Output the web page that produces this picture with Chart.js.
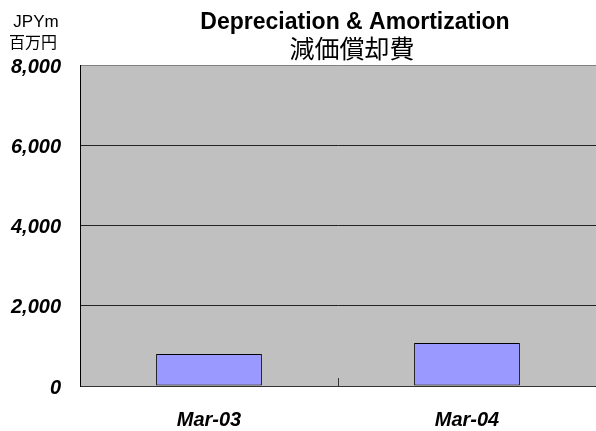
<!DOCTYPE html>
<html>
<head>
<meta charset="utf-8">
<script src="https://cdn.jsdelivr.net/npm/chart.js@4"></script>
<style>
  body { margin: 0; background: #fff; }
  canvas { display: block; }
</style>
</head>
<body>
<canvas id="chart" width="596" height="431"></canvas>
<script>
const periods = ["Mar-03", "Mar-04"];
const depreciation = [800, 1070];
const yTicks = [0, 2000, 4000, 6000, 8000];

const titleLine = "Depreciation & Amortization";
const titleLineJa = "減価償却費";
const unitEn = "JPYm";
const unitJa = "百万円";

const latin = "'Liberation Sans', Arial, sans-serif";
const cjk = "'Noto Sans CJK JP', 'Noto Sans CJK SC', sans-serif";

// gray plot area + titles + inward tick marks on the category axis
const decor = {
  id: "decor",
  beforeDraw(chart) {
    const { ctx, chartArea } = chart;
    ctx.save();
    ctx.fillStyle = "#fff";
    ctx.fillRect(0, 0, chart.width, chart.height);
    ctx.fillStyle = "#c0c0c0";
    ctx.fillRect(chartArea.left, chartArea.top, chartArea.right - chartArea.left, chartArea.bottom - chartArea.top);
    ctx.restore();
  },
  afterDraw(chart) {
    const { ctx } = chart;
    const x = chart.scales.x;
    ctx.save();
    ctx.strokeStyle = "#333";
    ctx.lineWidth = 1;
    const step = x.width / periods.length;
    for (let i = 1; i < periods.length; i++) {
      const px = Math.round(x.left + i * step) + 0.5;
      ctx.beginPath();
      ctx.moveTo(px, x.top - 8);
      ctx.lineTo(px, x.top);
      ctx.stroke();
    }
    ctx.fillStyle = "#000";
    ctx.textAlign = "center";
    ctx.textBaseline = "middle";
    ctx.font = "bold 23px " + latin;
    ctx.fillText(titleLine, 355, 23);
    ctx.font = "25px " + cjk;
    ctx.fillText(titleLineJa, 352, 48);
    ctx.font = "17px " + latin;
    ctx.fillText(unitEn, 36, 22);
    ctx.font = "16px " + cjk;
    ctx.fillText(unitJa, 33, 42);
    ctx.restore();
  }
};

new Chart(document.getElementById("chart"), {
  type: "bar",
  data: {
    labels: periods,
    datasets: [{
      label: "Depreciation & Amortization",
      data: depreciation,
      backgroundColor: "#9999ff",
      borderColor: "#000",
      borderWidth: 1,
      borderSkipped: false,
      categoryPercentage: 1,
      barPercentage: 0.41
    }]
  },
  options: {
    responsive: false,
    animation: false,
    layout: { padding: { top: 65, right: 0, left: 0, bottom: 0 } },
    plugins: {
      legend: { display: false },
      title: { display: false },
      tooltip: { enabled: false }
    },
    scales: {
      x: {
        grid: { display: false },
        border: { color: "#333", width: 1 },
        ticks: {
          color: "#000",
          padding: 14,
          font: { family: latin, size: 20, weight: "bold", style: "italic" }
        },
        afterFit(scale) { scale.height = 45; }
      },
      y: {
        min: 0,
        max: 8000,
        afterBuildTicks(scale) { scale.ticks = yTicks.map(v => ({ value: v })); },
        grid: {
          drawTicks: false,
          color: ctx => ctx.tick.value === 8000 ? "#808080" : "#222",
          lineWidth: 1
        },
        border: { color: "#000", width: 1 },
        ticks: {
          color: "#000",
          padding: 19,
          labelOffset: 2,
          font: { family: latin, size: 20, weight: "bold", style: "italic" },
          callback: v => v.toLocaleString("en-US")
        },
        afterFit(scale) { scale.width = 80; }
      }
    }
  },
  plugins: [decor]
});
</script>
</body>
</html>
